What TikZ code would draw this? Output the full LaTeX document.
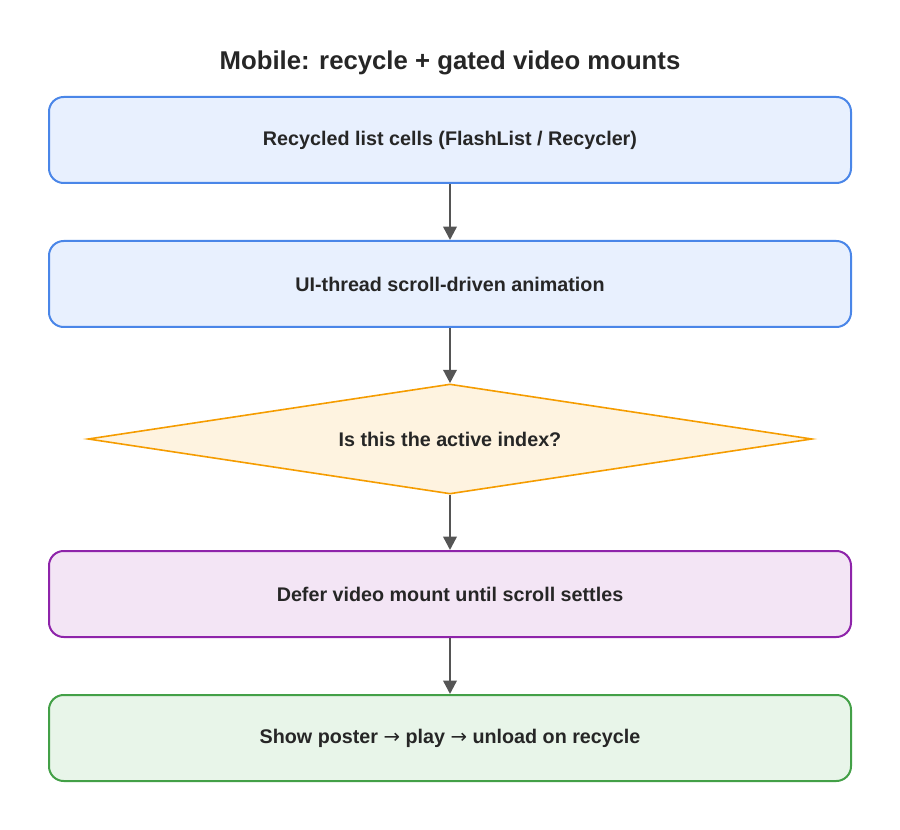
\documentclass[tikz,border=0pt]{standalone}
\usepackage{fontspec}
\setmainfont{Liberation Sans}
\newfontfamily\arrowfont{DejaVu Sans}
\usetikzlibrary{arrows.meta, shapes.geometric}
\definecolor{blueline}{HTML}{4A86E8}
\definecolor{bluefill}{HTML}{E8F0FE}
\definecolor{orangeline}{HTML}{F59C00}
\definecolor{orangefill}{HTML}{FEF3E0}
\definecolor{purpleline}{HTML}{8E24AA}
\definecolor{purplefill}{HTML}{F3E5F5}
\definecolor{greenline}{HTML}{43A047}
\definecolor{greenfill}{HTML}{E8F5E9}
\definecolor{flowgray}{HTML}{555555}
\tikzset{
  stepbox/.style={draw, rounded corners=11pt, line width=1.5pt,
    minimum width=601.5pt, minimum height=64.5pt, inner sep=0,
    font=\bfseries\fontsize{14.8}{17}\selectfont, text=black!85},
  decision/.style={draw=orangeline, fill=orangefill, diamond, aspect=6.58,
    line width=1.2pt, minimum width=543pt, minimum height=82.5pt, inner sep=0,
    font=\bfseries\fontsize{14.8}{17}\selectfont, text=black!85},
  flow/.style={draw=flowgray, line width=1.8pt, -{Triangle[length=10pt,width=10pt]}},
}
\begin{document}
\begin{tikzpicture}[x=0.75pt, y=-0.75pt]
\useasboundingbox (0,0) rectangle (900,830);

% title
\node[font=\bfseries\fontsize{19.3}{23}\selectfont, text=black!85] (title) at (450,63)
  {Mobile: recycle + gated video mounts};

% steps
\node[stepbox, draw=blueline, fill=bluefill] (cells) at (450,140)
  {Recycled list cells (FlashList / Recycler)};
\node[stepbox, draw=blueline, fill=bluefill] (anim) at (450,284)
  {UI-thread scroll-driven animation};
\node[decision] (active) at (450,439) {Is this the active index?};
\node[stepbox, draw=purpleline, fill=purplefill] (defer) at (450,594)
  {Defer video mount until scroll settles};
\node[stepbox, draw=greenline, fill=greenfill] (show) at (450,738)
  {Show poster {\arrowfont\mdseries →} play {\arrowfont\mdseries →} unload on recycle};

% arrows
\draw[flow] (cells) -- (anim);
\draw[flow] (anim) -- (active);
\draw[flow] (active) -- (defer);
\draw[flow] (defer) -- (show);
\end{tikzpicture}
\end{document}
